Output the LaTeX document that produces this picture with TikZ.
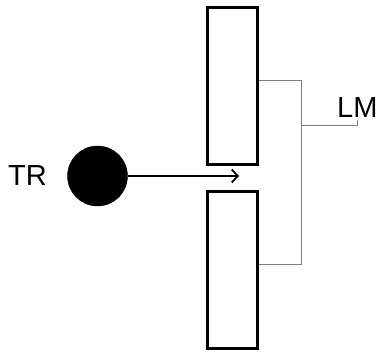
\documentclass[tikz,border=0pt]{standalone}
\usepackage{fontspec}
\setmainfont{Liberation Sans}
\usetikzlibrary{arrows.meta,positioning}
\tikzset{
  slab/.style={rectangle, draw=black, line width=2.4pt, minimum width=50pt, minimum height=157pt, inner sep=0pt},
  ball/.style={circle, fill=black, draw=black, minimum size=60pt, inner sep=0pt},
  beamarr/.style={-{Straight Barb[length=6pt,width=13pt,line width=1.8pt]}, line width=1.8pt},
  wire/.style={draw=black!50, line width=1pt},
  lbl/.style={font=\fontsize{29pt}{32pt}\selectfont, inner sep=0pt},
}
\begin{document}
\begin{tikzpicture}[x=1pt,y=-1pt]
  \useasboundingbox (0,0) rectangle (377,352);
  \node[slab] (upper) at (232.5,86) {};
  \node[slab] (lower) at (232.5,270) {};
  \node[ball] (tr) at (97.5,176) {};
  \node[lbl, anchor=west] (trlbl) at (8,176) {TR};
  \node[lbl, anchor=base west] (lmlbl) at (337,118) {LM};
  \coordinate (aim) at (239,176);
  \coordinate (jtop) at (301,81);
  \coordinate (jbot) at (301,265);
  \coordinate (jmid) at (301,126);
  \coordinate (hook) at (357,126);
  \coordinate (hooktip) at (357,120);
  % connectors
  \draw[beamarr] (tr.east) -- (aim);
  \draw[wire] ([yshift=5pt]upper.east) -- (jtop) -- (jbot) -- ([yshift=5pt]lower.east);
  \draw[wire] (jmid) -- (hook) -- (hooktip);
\end{tikzpicture}
\end{document}
